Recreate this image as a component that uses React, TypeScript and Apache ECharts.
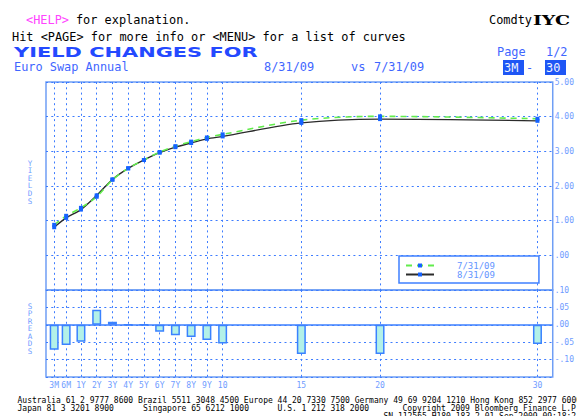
import React, { useEffect, useRef } from "react";
import * as echarts from "echarts";

// Tenors along the curve and their position on the tenor axis (axis units, years-like)
const tenorLabels = ["3M", "6M", "1Y", "2Y", "3Y", "4Y", "5Y", "6Y", "7Y", "8Y", "9Y", "10", "15", "20", "30"];
const tenorPos = [-0.7, 0.06, 1, 2, 3, 4, 5, 6, 7, 8, 9, 10, 15, 20, 30];

// Euro swap annual yields (%)
const yieldsAug31 = [0.81, 1.08, 1.32, 1.73, 2.19, 2.51, 2.75, 2.96, 3.12, 3.24, 3.36, 3.43, 3.82, 3.93, 3.88];
const yieldsJul31 = [0.88, 1.14, 1.37, 1.69, 2.18, 2.51, 2.75, 2.98, 3.15, 3.28, 3.40, 3.49, 3.90, 4.01, 3.94];

// Spreads (8/31/09 minus 7/31/09)
const spreads = [-0.072, -0.058, -0.049, 0.043, 0.009, 0, 0, -0.02, -0.03, -0.035, -0.044, -0.054, -0.084, -0.084, -0.055];

const seriesNames = ["7/31/09", "8/31/09"];

const MONO = '"DejaVu Sans Mono", monospace';
const GRID_BLUE = "#3d7cff";
const BORDER_BLUE = "#6f9ef5";
const LABEL_BLUE = "#6f9cff";

const dotted = { color: GRID_BLUE, width: 1, type: [2, 3.3] as any };

function txt(text: string, x: number, y: number, fill: string, font: string, extra: any = {}) {
  return {
    type: "text",
    x,
    y,
    silent: true,
    ...extra,
    style: { text, x: 0, y: 0, fill, font, verticalAlign: "middle", align: "left", ...(extra.style || {}) },
  };
}

function tenorLabelFor(v: number) {
  for (let i = 0; i < tenorPos.length; i++) {
    if (Math.abs(tenorPos[i] - v) < 1e-6) return tenorLabels[i];
  }
  return "";
}

function fmtYield(v: number) {
  if (v < -1e-9) return "";
  if (Math.abs(v) < 1e-9) return ".00";
  return v.toFixed(2);
}

function fmtSpread(v: number) {
  if (v < -0.1001 || v > 0.1001) return "";
  const s = Math.abs(v).toFixed(2).replace(/^0/, "");
  return (v < -1e-9 ? "-" : "") + s;
}

export default function App() {
  const ref = useRef<HTMLDivElement>(null);

  useEffect(() => {
    if (!ref.current) return;
    const chart = echarts.init(ref.current, null, { renderer: "svg" });

    const headerFont = `11.9px ${MONO}`;
    const footFont = `8px ${MONO}`;
    const vertFont = `7.6px ${MONO}`;

    const option: any = {
      animation: false,
      backgroundColor: "#ffffff",
      textStyle: { fontFamily: MONO },
      grid: [
        { left: 46, right: 22, top: 82, height: 208, show: true, borderColor: BORDER_BLUE, borderWidth: 1.5, backgroundColor: "transparent" },
        { left: 46, right: 22, top: 290, height: 87, show: true, borderColor: BORDER_BLUE, borderWidth: 1.5, backgroundColor: "transparent" },
      ],
      xAxis: [0, 1].map((gi) => ({
        type: "value",
        gridIndex: gi,
        min: -1.22,
        max: 30.97,
        axisLine: { show: false },
        axisTick: { show: false, customValues: tenorPos },
        axisLabel: {
          show: gi === 1,
          customValues: tenorPos,
          formatter: (v: number) => tenorLabelFor(v),
          color: LABEL_BLUE,
          fontSize: 8,
          fontFamily: MONO,
          margin: 4,
        },
        splitLine: { show: true, lineStyle: dotted },
      })),
      yAxis: [
        {
          type: "value",
          gridIndex: 0,
          position: "right",
          min: -1,
          max: 5,
          interval: 1,
          axisLine: { show: false },
          axisTick: { show: false },
          axisLabel: { formatter: fmtYield, color: LABEL_BLUE, fontSize: 8, fontFamily: MONO, margin: 2 },
          splitLine: { show: true, lineStyle: dotted },
        },
        {
          type: "value",
          gridIndex: 1,
          position: "right",
          min: -0.15,
          max: 0.1,
          interval: 0.05,
          axisLine: { show: false },
          axisTick: { show: false },
          axisLabel: { formatter: fmtSpread, color: LABEL_BLUE, fontSize: 8, fontFamily: MONO, margin: 2 },
          splitLine: { show: true, lineStyle: dotted },
        },
      ],
      legend: {
        data: seriesNames,
        orient: "vertical",
        left: 399,
        top: 256,
        padding: [5, 44, 4, 6],
        itemGap: 0,
        itemWidth: 28,
        itemHeight: 5,
        backgroundColor: "#ffffff",
        borderColor: "#3f80ff",
        borderWidth: 1.5,
        borderRadius: 0,
        selectedMode: false,
        textStyle: { color: "#6495ff", fontSize: 9, fontFamily: MONO, lineHeight: 8.4, padding: [0, 0, 0, 18] },
      },
      series: [
        {
          name: seriesNames[1],
          type: "line",
          xAxisIndex: 0,
          yAxisIndex: 0,
          data: tenorPos.map((p, i) => [p, yieldsAug31[i]]),
          smooth: 0.3,
          symbol: "rect",
          symbolSize: 4,
          lineStyle: { color: "#2b2b2b", width: 1.4 },
          itemStyle: { color: "#1562ff" },
          z: 3,
        },
        {
          name: seriesNames[0],
          type: "line",
          xAxisIndex: 0,
          yAxisIndex: 0,
          data: tenorPos.map((p, i) => [p, yieldsJul31[i]]),
          smooth: 0.3,
          symbol: "rect",
          symbolSize: 4,
          lineStyle: { color: "#62ec4c", width: 1.6, type: [6, 5] },
          itemStyle: { color: "#1562ff" },
          z: 4,
        },
        {
          name: "Spread",
          type: "bar",
          xAxisIndex: 1,
          yAxisIndex: 1,
          data: tenorPos.map((p, i) => [p, spreads[i]]),
          barWidth: 9,
          itemStyle: { color: "#b3f1e8", borderColor: "#3a82ff", borderWidth: 1.5 },
          markLine: {
            silent: true,
            symbol: "none",
            label: { show: false },
            lineStyle: { color: "#3d7fff", width: 1.5, type: "solid" },
            data: [{ yAxis: 0 }],
          },
          z: 3,
        },
      ],
      graphic: [
        txt("<HELP>", 26, 20, "#ff44ff", headerFont),
        txt(" for explanation.", 68.8, 20, "#000000", headerFont),
        txt("Hit <PAGE> for more info or <MENU> for a list of curves", 12, 37, "#000000", headerFont),
        txt("YIELD CHANGES FOR", 14, 52, "#2449ff", `bold 13.5px "DejaVu Sans", sans-serif`, { scaleX: 1.55 }),
        txt("Euro Swap Annual", 14, 67, "#3f66ff", headerFont),
        txt("8/31/09", 264, 67, "#3f66ff", headerFont),
        txt("vs", 351, 67, "#3f66ff", headerFont),
        txt("7/31/09", 374, 67, "#3f66ff", headerFont),
        txt("Comdty", 489, 20, "#000000", headerFont),
        txt("IYC", 533, 20, "#000000", `bold 13.5px "DejaVu Serif", serif`, { scaleX: 1.4 }),
        txt("Page", 497, 52, "#3f66ff", headerFont),
        txt("1/2", 546, 52, "#3f66ff", headerFont),
        { type: "rect", silent: true, shape: { x: 503, y: 60, width: 21, height: 15 }, style: { fill: "#1e56f5" } },
        txt("3M", 504, 67.5, "#eef2ff", headerFont),
        txt("-", 526, 67.5, "#3f66ff", headerFont),
        { type: "rect", silent: true, shape: { x: 545, y: 60, width: 21, height: 15 }, style: { fill: "#1e56f5" } },
        txt("30", 546, 67.5, "#eef2ff", headerFont),
        {
          type: "text",
          silent: true,
          x: 30,
          y: 182,
          style: { text: "Y\nI\nE\nL\nD\nS", fill: LABEL_BLUE, font: vertFont, lineHeight: 7.6, align: "center", verticalAlign: "middle" },
        },
        {
          type: "text",
          silent: true,
          x: 30,
          y: 328.5,
          style: { text: "S\nP\nR\nE\nA\nD\nS", fill: LABEL_BLUE, font: vertFont, lineHeight: 7.5, align: "center", verticalAlign: "middle" },
        },
        txt("Australia 61 2 9777 8600 Brazil 5511 3048 4500 Europe 44 20 7330 7500 Germany 49 69 9204 1210 Hong Kong 852 2977 6000", 17.5, 400, "#000000", footFont),
        txt("Japan 81 3 3201 8900", 17.5, 408.5, "#000000", footFont),
        txt("Singapore 65 6212 1000", 143, 408.5, "#000000", footFont),
        txt("U.S. 1 212 318 2000", 277.5, 408.5, "#000000", footFont),
        txt("Copyright 2009 Bloomberg Finance L.P.", 402.5, 408.5, "#000000", footFont),
        txt("SN 112565 H180-183-2 01-Sep-2009 09:18:2", 383.5, 416.5, "#000000", footFont),
      ],
    };

    chart.setOption(option);
    return () => chart.dispose();
  }, []);

  return (
    <div
      ref={ref}
      style={{ position: "absolute", left: 0, top: 0, width: 577, height: 416, background: "#ffffff" }}
    />
  );
}
